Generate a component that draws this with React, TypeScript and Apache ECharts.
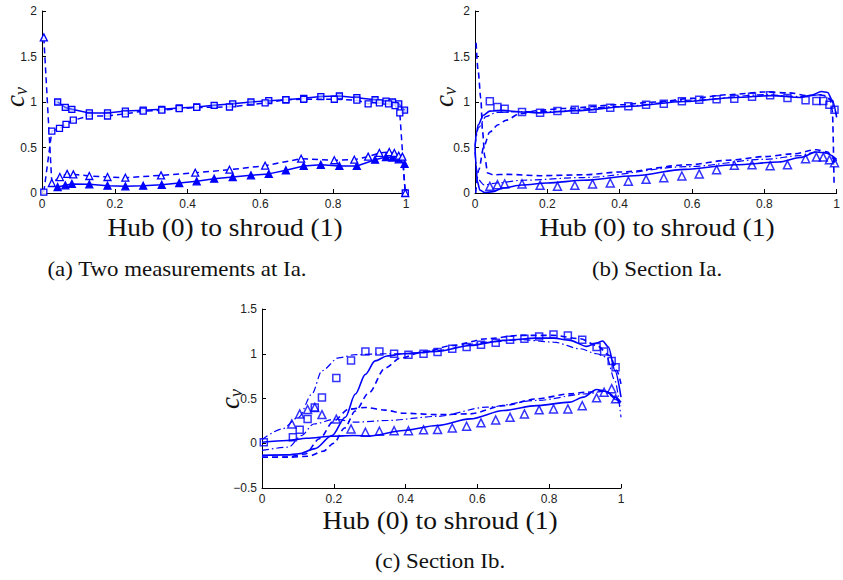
import React, { useEffect, useRef } from "react";
import * as echarts from "echarts";

type P = [number, number];

// ---------- (a) Two measurements at Ia ----------
const aSolidSquares: P[] = [
  [0.043, 1.0], [0.064, 0.94], [0.082, 0.92], [0.13, 0.88], [0.18, 0.88], [0.229, 0.9],
  [0.278, 0.91], [0.329, 0.92], [0.377, 0.935], [0.425, 0.945], [0.473, 0.963], [0.524, 0.98],
  [0.574, 1.0], [0.623, 1.015], [0.67, 1.025], [0.719, 1.04], [0.766, 1.06], [0.817, 1.066],
  [0.865, 1.048], [0.915, 1.025], [0.945, 1.01], [0.963, 1.0], [0.98, 0.98], [0.996, 0.91],
];
const aDashedSquares: P[] = [
  [0.005, 0.01], [0.027, 0.68], [0.048, 0.71], [0.066, 0.755], [0.086, 0.8], [0.13, 0.846],
  [0.18, 0.846], [0.229, 0.87], [0.278, 0.9], [0.329, 0.91], [0.377, 0.927], [0.425, 0.94],
  [0.515, 0.945], [0.613, 0.99], [0.67, 1.025], [0.719, 1.03], [0.803, 1.03], [0.865, 1.02],
  [0.896, 0.98], [0.927, 0.99], [0.952, 0.98], [0.97, 0.96], [0.983, 0.88], [0.998, 0.0],
];
const aSolidTriangles: P[] = [
  [0.043, 0.066], [0.064, 0.084], [0.082, 0.1], [0.13, 0.095], [0.18, 0.08], [0.229, 0.073],
  [0.278, 0.08], [0.329, 0.09], [0.377, 0.11], [0.425, 0.128], [0.473, 0.157], [0.524, 0.176],
  [0.574, 0.194], [0.623, 0.21], [0.67, 0.25], [0.719, 0.297], [0.766, 0.31], [0.817, 0.297],
  [0.865, 0.297], [0.915, 0.366], [0.945, 0.395], [0.963, 0.39], [0.98, 0.37], [0.996, 0.32],
];
const aDashedTriangles: P[] = [
  [0.005, 1.71], [0.027, 0.11], [0.049, 0.175], [0.069, 0.21], [0.086, 0.205], [0.13, 0.187],
  [0.18, 0.176], [0.229, 0.168], [0.327, 0.194], [0.421, 0.223], [0.515, 0.256], [0.613, 0.3],
  [0.712, 0.377], [0.803, 0.36], [0.858, 0.366], [0.896, 0.4], [0.927, 0.44], [0.954, 0.45],
  [0.968, 0.44], [0.98, 0.41], [0.99, 0.4], [0.998, 0.0],
];

// ---------- (b) Section Ia ----------
const bSquares: P[] = [
  [0.041, 1.007], [0.062, 0.945], [0.082, 0.927], [0.13, 0.89], [0.18, 0.883], [0.228, 0.9],
  [0.276, 0.916], [0.325, 0.927], [0.374, 0.938], [0.424, 0.952], [0.473, 0.97], [0.522, 0.98],
  [0.572, 1.007], [0.62, 1.025], [0.668, 1.03], [0.717, 1.037], [0.766, 1.058], [0.816, 1.073],
  [0.864, 1.044], [0.914, 1.018], [0.944, 1.011], [0.963, 1.011], [0.98, 0.97], [0.994, 0.916],
];
const bTriangles: P[] = [
  [0.041, 0.073], [0.062, 0.092], [0.082, 0.1], [0.13, 0.1], [0.18, 0.084], [0.228, 0.073],
  [0.276, 0.084], [0.325, 0.1], [0.374, 0.11], [0.424, 0.13], [0.473, 0.15], [0.522, 0.168],
  [0.572, 0.187], [0.62, 0.21], [0.668, 0.256], [0.717, 0.304], [0.766, 0.31], [0.816, 0.3],
  [0.864, 0.31], [0.914, 0.377], [0.944, 0.395], [0.963, 0.395], [0.98, 0.366], [0.994, 0.333],
];
const bSolidUpper: P[] = [
  [0, 0.5], [0.004, 0.66], [0.009, 0.75], [0.023, 0.855], [0.041, 0.9], [0.077, 0.908],
  [0.13, 0.89], [0.18, 0.88], [0.28, 0.905], [0.42, 0.95], [0.58, 1.005], [0.72, 1.05],
  [0.82, 1.07], [0.9, 1.05], [0.93, 1.075], [0.958, 1.115], [0.975, 1.105], [0.988, 1.02], [1.0, 0.83],
];
const bSolidLower: P[] = [
  [0, 0.5], [0.003, 0.31], [0.006, 0.13], [0.014, 0.03], [0.027, 0.005], [0.05, 0.015],
  [0.077, 0.055], [0.13, 0.088], [0.2, 0.11], [0.3, 0.14], [0.44, 0.19], [0.58, 0.26],
  [0.72, 0.31], [0.84, 0.34], [0.9, 0.39], [0.944, 0.45], [0.97, 0.44], [1.0, 0.37],
];
const bDashedUpper: P[] = [
  [0.002, 0.0], [0.01, 0.25], [0.025, 0.52], [0.041, 0.67], [0.064, 0.75], [0.086, 0.8],
  [0.123, 0.87], [0.18, 0.91], [0.25, 0.93], [0.4, 0.97], [0.5, 1.0], [0.6, 1.04],
  [0.7, 1.08], [0.8, 1.11], [0.87, 1.1], [0.92, 1.07], [0.95, 1.08], [0.97, 1.07],
  [0.982, 1.03], [0.988, 0.91], [0.993, 0.07],
];
const bDashedLower: P[] = [
  [0.003, 1.65], [0.009, 1.33], [0.016, 1.04], [0.021, 0.67], [0.027, 0.4], [0.035, 0.22],
  [0.05, 0.2], [0.086, 0.205], [0.18, 0.19], [0.3, 0.2], [0.4, 0.23], [0.59, 0.31],
  [0.7, 0.36], [0.8, 0.4], [0.88, 0.43], [0.944, 0.476], [0.975, 0.45], [0.99, 0.38], [0.996, 0.32],
];
const bDashDotUpper: P[] = [
  [0, 0.52], [0.01, 0.72], [0.03, 0.84], [0.06, 0.885], [0.12, 0.895], [0.2, 0.895],
  [0.4, 0.95], [0.6, 1.02], [0.8, 1.08], [0.9, 1.06], [0.96, 1.08], [0.985, 1.02], [1.0, 0.85],
];
const bDashDotLower: P[] = [
  [0, 0.45], [0.008, 0.15], [0.025, 0.09], [0.06, 0.11], [0.13, 0.14], [0.3, 0.17],
  [0.59, 0.29], [0.8, 0.37], [0.9, 0.41], [0.95, 0.46], [0.98, 0.43], [1.0, 0.35],
];

// ---------- (c) Section Ib ----------
const cSquares: P[] = [
  [0.005, 0.01], [0.086, 0.067], [0.105, 0.15], [0.127, 0.27], [0.147, 0.4], [0.167, 0.51],
  [0.207, 0.73], [0.248, 0.925], [0.288, 1.026], [0.327, 1.026], [0.368, 1.0], [0.408, 0.989],
  [0.45, 1.0], [0.489, 1.02], [0.53, 1.056], [0.57, 1.075], [0.61, 1.1], [0.651, 1.123],
  [0.691, 1.157], [0.731, 1.168], [0.772, 1.194], [0.812, 1.216], [0.852, 1.205], [0.892, 1.157],
  [0.932, 1.075], [0.953, 1.026], [0.974, 0.918], [0.985, 0.85],
];
const cTriangles: P[] = [
  [0.083, 0.216], [0.105, 0.328], [0.127, 0.377], [0.147, 0.4], [0.167, 0.32], [0.207, 0.27],
  [0.248, 0.16], [0.288, 0.123], [0.327, 0.134], [0.368, 0.14], [0.408, 0.14], [0.45, 0.15],
  [0.489, 0.153], [0.53, 0.17], [0.57, 0.19], [0.61, 0.228], [0.651, 0.26], [0.691, 0.29],
  [0.731, 0.328], [0.772, 0.373], [0.812, 0.384], [0.852, 0.384], [0.892, 0.42], [0.932, 0.507],
  [0.953, 0.57], [0.974, 0.61], [0.985, 0.496],
];
const cSolidUpper: P[] = [
  [0, -0.135], [0.07, -0.13], [0.102, -0.118], [0.148, -0.06], [0.195, 0.086], [0.232, 0.29],
  [0.26, 0.55], [0.288, 0.77], [0.315, 0.92], [0.348, 0.975], [0.394, 1.0], [0.487, 1.026],
  [0.58, 1.093], [0.673, 1.15], [0.765, 1.175], [0.812, 1.175], [0.858, 1.15], [0.904, 1.082],
  [0.932, 1.12], [0.949, 1.142], [0.965, 1.075], [0.983, 0.813], [1.0, 0.515],
];
const cSolidLower: P[] = [
  [0, 0.011], [0.07, 0.03], [0.125, 0.056], [0.195, 0.078], [0.255, 0.086], [0.3, 0.08],
  [0.394, 0.142], [0.487, 0.198], [0.58, 0.272], [0.673, 0.366], [0.765, 0.42], [0.858, 0.46],
  [0.895, 0.515], [0.932, 0.6], [0.96, 0.578], [0.983, 0.515], [1.0, 0.459],
];
const cDashedUpper: P[] = [
  [0, -0.157], [0.07, -0.157], [0.13, -0.145], [0.17, -0.09], [0.2, 0.0], [0.23, 0.17],
  [0.26, 0.36], [0.297, 0.56], [0.343, 0.84], [0.385, 0.95], [0.44, 1.01], [0.533, 1.093],
  [0.626, 1.168], [0.719, 1.205], [0.812, 1.205], [0.886, 1.168], [0.932, 1.093], [0.969, 0.98],
  [0.988, 0.813], [1.0, 0.664],
];
const cDashedLower: P[] = [
  [0, -0.157], [0.07, -0.155], [0.12, -0.12], [0.16, 0.05], [0.2, 0.25], [0.241, 0.38],
  [0.288, 0.4], [0.343, 0.37], [0.394, 0.336], [0.487, 0.32], [0.58, 0.328], [0.673, 0.42],
  [0.765, 0.496], [0.858, 0.552], [0.904, 0.57], [0.95, 0.59], [1.0, 0.44],
];
const cDashDotUpper: P[] = [
  [0, 0.04], [0.056, 0.16], [0.102, 0.29], [0.139, 0.55], [0.167, 0.81], [0.213, 0.955],
  [0.26, 0.99], [0.343, 1.0], [0.394, 1.0], [0.487, 1.037], [0.626, 1.13], [0.719, 1.157],
  [0.812, 1.13], [0.886, 1.056], [0.932, 1.0], [0.96, 0.963], [0.983, 0.7], [1.0, 0.29],
];
const cDashDotLower: P[] = [
  [0, -0.08], [0.074, -0.044], [0.11, 0.086], [0.144, 0.215], [0.204, 0.27], [0.26, 0.235],
  [0.348, 0.254], [0.487, 0.3], [0.626, 0.403], [0.765, 0.478], [0.904, 0.552], [0.95, 0.58],
  [1.0, 0.42],
];

// ---------- labels / ticks ----------
const xTitle = "Hub (0) to shroud (1)";
const captions = ["(a) Two measurements at Ia.", "(b) Section Ia.", "(c) Section Ib."];
const xRange = [0, 1, 0.2];
const yRangeAB = [0, 2, 0.5];
const yRangeC = [-0.5, 1.5, 0.5];

const BLUE = "#0000ff";
const DASH = [6, 4];
const DASHDOT = [7, 3, 1.5, 3];
const SERIF = "Liberation Serif";

function line(idx: number, data: P[], dash: any, width = 1.5, smooth: any = 0.3) {
  return {
    type: "line",
    xAxisIndex: idx,
    yAxisIndex: idx,
    data,
    symbol: "none",
    smooth,
    smoothMonotone: smooth ? "x" : undefined,
    lineStyle: { color: BLUE, width, type: dash },
    silent: true,
    z: 2,
  };
}

function markedLine(idx: number, data: P[], dash: any, symbol: string, size: number, fill: string) {
  return {
    type: "line",
    xAxisIndex: idx,
    yAxisIndex: idx,
    data,
    symbol,
    symbolSize: size,
    showSymbol: true,
    showAllSymbol: true,
    smooth: false,
    lineStyle: { color: BLUE, width: 1.5, type: dash },
    itemStyle: { color: fill, borderColor: BLUE, borderWidth: 1.3 },
    silent: true,
    z: 3,
  };
}

function markers(idx: number, data: P[], symbol: string, size: number) {
  return {
    type: "scatter",
    xAxisIndex: idx,
    yAxisIndex: idx,
    data,
    symbol,
    symbolSize: size,
    itemStyle: { color: "rgba(255,255,255,0)", borderColor: BLUE, borderWidth: 1.5 },
    silent: true,
    z: 4,
  };
}

const axisText = { color: "#222", fontSize: 12, fontFamily: "Liberation Sans" };

function xAxis(i: number) {
  return {
    type: "value",
    gridIndex: i,
    min: xRange[0],
    max: xRange[1],
    interval: xRange[2],
    axisLine: { show: true, onZero: false, lineStyle: { color: "#000", width: 1 } },
    axisTick: { show: true, inside: true, length: 4, lineStyle: { color: "#000" } },
    axisLabel: { ...axisText, margin: 5 },
    splitLine: { show: false },
  };
}

function yAxis(i: number, r: number[]) {
  return {
    type: "value",
    gridIndex: i,
    min: r[0],
    max: r[1],
    interval: r[2],
    axisLine: { show: true, onZero: false, lineStyle: { color: "#000", width: 1 } },
    axisTick: { show: true, inside: true, length: 4, lineStyle: { color: "#000" } },
    axisLabel: {
      ...axisText,
      margin: 5,
      formatter: (v: number) => String(v).replace("-", "\u2212"),
    },
    splitLine: { show: false },
  };
}

function titleText(x: number, y: number, text: string, size: number, sx = 1) {
  return {
    type: "text",
    x,
    y,
    scaleX: sx,
    silent: true,
    style: {
      text,
      fill: "#111",
      fontFamily: SERIF,
      fontSize: size,
      align: "center",
      verticalAlign: "middle",
    },
  };
}

function cvLabel(x: number, y: number) {
  return {
    type: "group",
    x,
    y,
    rotation: Math.PI / 2,
    silent: true,
    children: [
      {
        type: "text",
        x: -4,
        y: 0,
        style: {
          text: "c", fill: "#111", fontFamily: SERIF, fontStyle: "italic", fontSize: 27,
          align: "center", verticalAlign: "middle",
        },
      },
      {
        type: "text",
        x: 6,
        y: 6,
        style: {
          text: "v", fill: "#111", fontFamily: SERIF, fontStyle: "italic", fontSize: 18,
          align: "center", verticalAlign: "middle",
        },
      },
    ],
  };
}

export default function App() {
  const ref = useRef<HTMLDivElement>(null);
  useEffect(() => {
    if (!ref.current) return;
    const chart = echarts.init(ref.current, null, { renderer: "svg" });
    chart.setOption({
      animation: false,
      backgroundColor: "#fff",
      grid: [
        { left: 42, top: 11, width: 364, height: 182 },
        { left: 475, top: 11, width: 366, height: 182 },
        { left: 262, top: 309, width: 359, height: 179 },
      ],
      xAxis: [xAxis(0), xAxis(1), xAxis(2)],
      yAxis: [yAxis(0, yRangeAB), yAxis(1, yRangeAB), yAxis(2, yRangeC)],
      series: [
        // (a)
        markedLine(0, aSolidSquares, "solid", "rect", 6, "rgba(150,170,255,0.5)"),
        markedLine(0, aDashedSquares, DASH, "rect", 6, "rgba(255,255,255,0.8)"),
        markedLine(0, aSolidTriangles, "solid", "triangle", 7, BLUE),
        markedLine(0, aDashedTriangles, DASH, "triangle", 7, "rgba(255,255,255,0.9)"),
        // (b)
        line(1, bDashDotUpper, DASHDOT, 1.2),
        line(1, bDashDotLower, DASHDOT, 1.2),
        line(1, bSolidUpper, "solid", 1.6),
        line(1, bSolidLower, "solid", 1.6),
        line(1, bDashedUpper, DASH, 1.6),
        line(1, bDashedLower, DASH, 1.6),
        markers(1, bSquares, "rect", 7),
        markers(1, bTriangles, "triangle", 8),
        // (c)
        line(2, cDashDotUpper, DASHDOT, 1.2),
        line(2, cDashDotLower, DASHDOT, 1.2),
        line(2, cSolidUpper, "solid", 1.6),
        line(2, cSolidLower, "solid", 1.6),
        line(2, cDashedUpper, DASH, 1.6),
        line(2, cDashedLower, DASH, 1.6),
        markers(2, cSquares, "rect", 7),
        markers(2, cTriangles, "triangle", 8),
      ],
      graphic: [
        cvLabel(15, 97),
        cvLabel(444, 97),
        cvLabel(230, 399),
        titleText(225, 228, xTitle, 25, 1.1),
        titleText(657, 228, xTitle, 25, 1.1),
        titleText(440, 521, xTitle, 25, 1.1),
        titleText(177, 269, captions[0], 22, 1.04),
        titleText(657, 269, captions[1], 22, 1.04),
        titleText(440, 561, captions[2], 22, 1.04),
      ],
    });
    return () => chart.dispose();
  }, []);
  return (
    <div
      ref={ref}
      style={{ position: "fixed", left: 0, top: 0, width: 843, height: 580, background: "#fff" }}
    />
  );
}
